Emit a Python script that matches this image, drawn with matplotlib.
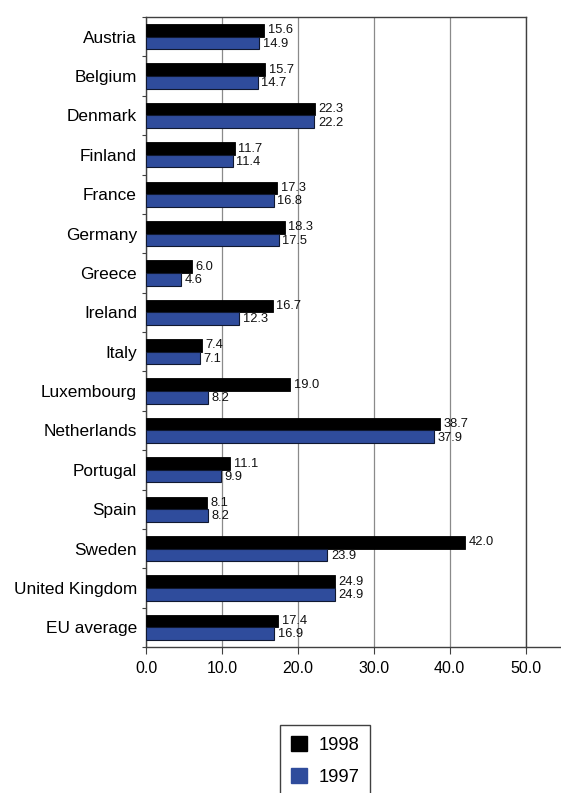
import numpy as np
import matplotlib.pyplot as plt
from matplotlib.lines import Line2D
from matplotlib.patches import Patch

plt.rcParams["font.family"] = ["Liberation Sans", "DejaVu Sans"]

countries = ["Austria", "Belgium", "Denmark", "Finland", "France", "Germany",
             "Greece", "Ireland", "Italy", "Luxembourg", "Netherlands",
             "Portugal", "Spain", "Sweden", "United Kingdom", "EU average"]
vals_1998 = [15.6, 15.7, 22.3, 11.7, 17.3, 18.3, 6.0, 16.7, 7.4, 19.0,
             38.7, 11.1, 8.1, 42.0, 24.9, 17.4]
vals_1997 = [14.9, 14.7, 22.2, 11.4, 16.8, 17.5, 4.6, 12.3, 7.1, 8.2,
             37.9, 9.9, 8.2, 23.9, 24.9, 16.9]
xticks = [0, 10, 20, 30, 40, 50]

BLACK = "#000000"
BLUE = "#2f4c9c"
AXIS = "#404040"

fig = plt.figure(figsize=(5.61, 7.93), dpi=100)
ax = fig.add_axes([146 / 561, 1 - 647 / 793, (525.5 - 146) / 561, (647 - 17) / 793])

y = np.arange(len(countries))
h = 0.32
ax.barh(y - h / 2, vals_1998, height=h, color=BLACK, edgecolor=BLACK, linewidth=0.6, zorder=3)
ax.barh(y + h / 2, vals_1997, height=h, color=BLUE, edgecolor="#101830", linewidth=0.8, zorder=3)

for yi, v in zip(y, vals_1998):
    ax.annotate(f"{v:.1f}", xy=(v, yi - h / 2), xytext=(2.5, 0), textcoords="offset points",
                va="center", ha="left", fontsize=9.3, color="#111111")
for yi, v in zip(y, vals_1997):
    ax.annotate(f"{v:.1f}", xy=(v, yi + h / 2 + 0.02), xytext=(2.5, 0), textcoords="offset points",
                va="center", ha="left", fontsize=9.3, color="#111111")

ax.set_xlim(0, 50)
ax.set_ylim(len(countries) - 0.5, -0.5)
ax.set_xticks(xticks)
ax.set_xticklabels([f"{t:.1f}" for t in xticks], fontsize=11.5)
ax.set_yticks(y)
ax.set_yticklabels(countries, fontsize=12.4)
ax.set_yticks(np.arange(len(countries) + 1) - 0.5, minor=True)
ax.tick_params(axis="y", which="major", length=0, pad=6.5)
ax.tick_params(axis="y", which="minor", length=3, width=0.8, color=AXIS, direction="out")
ax.tick_params(axis="x", length=5, width=0.8, color=AXIS, pad=5)

ax.xaxis.grid(True, color="#8a8a8a", linewidth=0.9, zorder=0)
ax.set_axisbelow(True)
for s in ax.spines.values():
    s.set_color(AXIS)
    s.set_linewidth(1.0)

# bottom axis line runs on past the last gridline
ax.add_line(Line2D([1, (560 - 146) / (525.5 - 146)], [0, 0], transform=ax.transAxes,
                   color=AXIS, linewidth=1.0, clip_on=False))

handles = [Patch(facecolor=BLACK, edgecolor=BLACK), Patch(facecolor=BLUE, edgecolor=BLUE)]
leg = fig.legend(handles, ["1998", "1997"], loc="upper center",
                 bbox_to_anchor=(325 / 561, 1 - 725 / 793), borderaxespad=0,
                 fontsize=13.2, handlelength=0.9, handleheight=0.9, labelspacing=0.78,
                 borderpad=0.6, handletextpad=0.6, fancybox=False, framealpha=1)
leg.get_frame().set_edgecolor(AXIS)
leg.get_frame().set_linewidth(1.0)

fig.savefig("out.png", dpi=100)
